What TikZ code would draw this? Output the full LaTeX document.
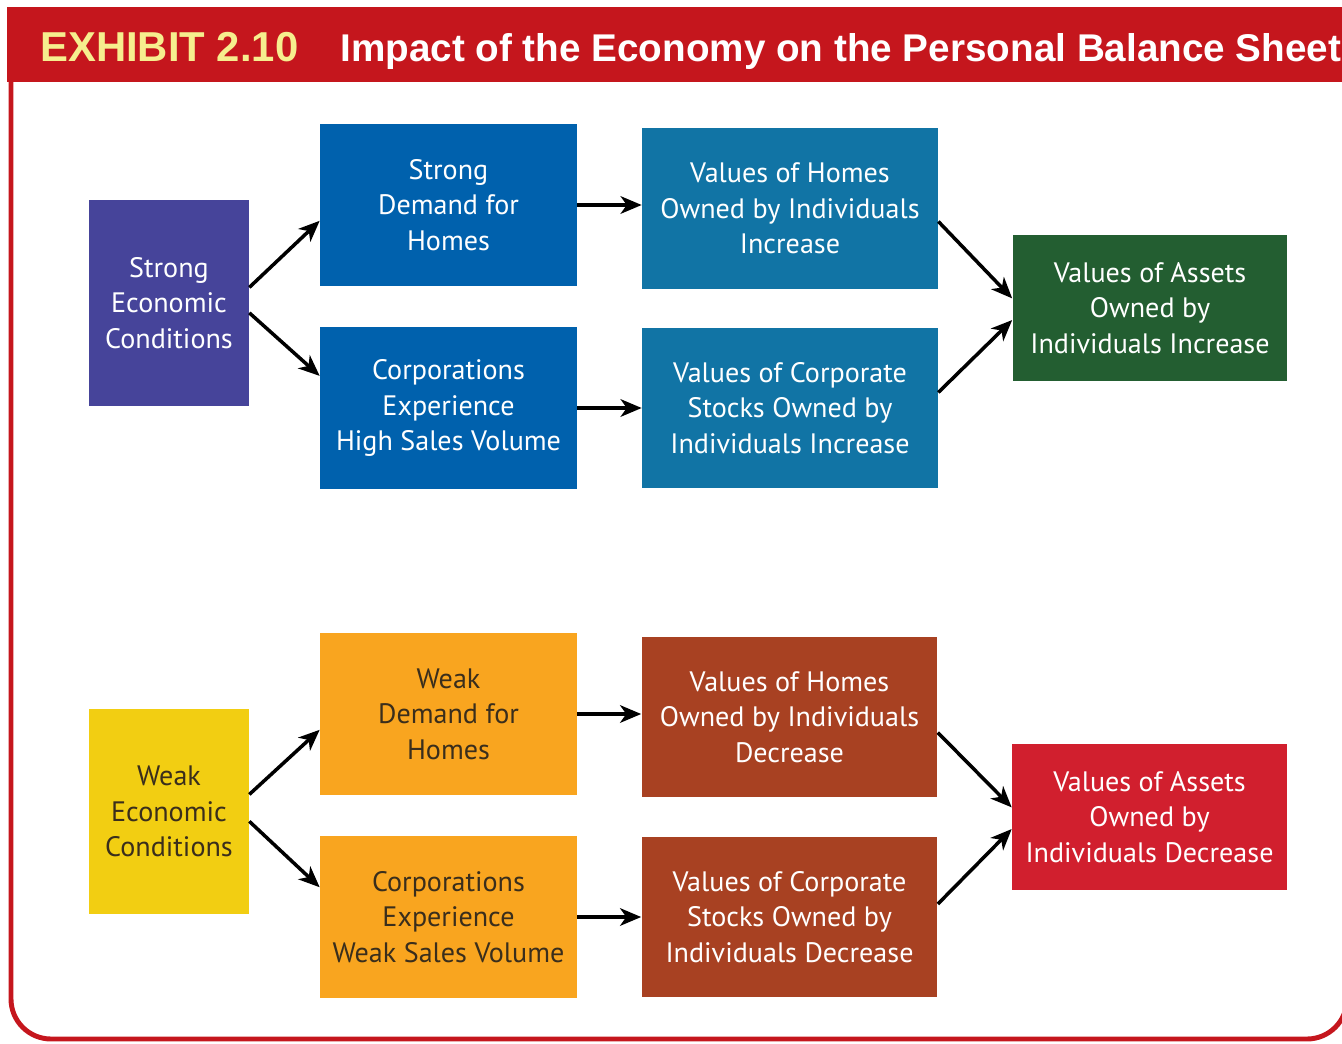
\documentclass[tikz,border=0pt]{standalone}
\usepackage{fontspec}
\setmainfont{PT Sans}
\newfontfamily\headfont{Liberation Sans}
\usetikzlibrary{arrows.meta}
\definecolor{headred}{HTML}{C5161D}
\definecolor{headyellow}{HTML}{F6EE8E}
\definecolor{strongpurple}{HTML}{46449A}
\definecolor{strongblue}{HTML}{0061AD}
\definecolor{strongteal}{HTML}{1174A5}
\definecolor{stronggreen}{HTML}{235E31}
\definecolor{weakyellow}{HTML}{F2CE12}
\definecolor{weakorange}{HTML}{F9A51F}
\definecolor{weakbrown}{HTML}{A84122}
\definecolor{weakred}{HTML}{D11F2E}
\definecolor{darktext}{HTML}{3A2E1C}
\begin{document}
\begin{tikzpicture}
        [   x = 0.02cm
        ,   y = -0.02cm
        ,   box/.style =
            {   inner sep = 0pt
            ,   align = center
            ,   font = \fontsize{16}{20.3}\selectfont
            }
        ,   condbox/.style =
            {   box
            ,   minimum width = 3.2cm
            ,   minimum height = 4.12cm
            }
        ,   causebox/.style =
            {   box
            ,   minimum width = 5.14cm
            ,   minimum height = 3.24cm
            }
        ,   valuebox/.style =
            {   box
            ,   minimum width = 5.92cm
            ,   minimum height = 3.22cm
            }
        ,   assetbox/.style =
            {   box
            ,   minimum width = 5.5cm
            ,   minimum height = 2.92cm
            }
        ,   flow/.style =
            {   line width = 2pt
            ,   -{Stealth[length = 12pt, width = 10pt, inset = 3.5pt]}
            }
        ,   headtext/.style =
            {   anchor = base west
            ,   inner sep = 0pt
            ,   font = \headfont\bfseries\fontsize{22}{22}\selectfont
            }
        ]
        \useasboundingbox (0,0) rectangle (1342,1044);
        % header band and frame
        \fill[headred] (7,7) rectangle (1350,82);
        \draw[headred, line width = 2.8pt, rounded corners = 0.8cm]
            (11,82) -- (11,1039) -- (1347,1039) -- (1347,82);
        \node[headtext, text = headyellow, font = \headfont\bfseries\fontsize{23.8}{24}\selectfont]
            (exhibit) at (40,62) {EXHIBIT 2.10};
        \node[headtext, text = white] (title) at (340,62)
            {Impact of the Economy on the Personal Balance Sheet};
        % strong economy
        \node[condbox, fill = strongpurple, text = white] (SEC) at (169,303)
            {Strong\\Economic\\Conditions};
        \node[causebox, fill = strongblue, text = white] (SDH) at (448.5,205)
            {Strong\\Demand for\\Homes};
        \node[causebox, fill = strongblue, text = white] (CHS) at (448.5,408)
            {Corporations\\Experience\\High Sales Volume};
        \node[valuebox, fill = strongteal, text = white] (VHI) at (790,208.5)
            {Values of Homes\\Owned by Individuals\\Increase};
        \node[valuebox, fill = strongteal, text = white] (VCI) at (790,408)
            {Values of Corporate\\Stocks Owned by\\Individuals Increase};
        \node[assetbox, fill = stronggreen, text = white] (VAI) at (1150,308)
            {Values of Assets\\Owned by\\Individuals Increase};
        % weak economy
        \node[condbox, fill = weakyellow, text = darktext] (WEC) at (169,811.5)
            {Weak\\Economic\\Conditions};
        \node[causebox, fill = weakorange, text = darktext] (WDH) at (448.5,714)
            {Weak\\Demand for\\Homes};
        \node[causebox, fill = weakorange, text = darktext] (CWS) at (448.5,917)
            {Corporations\\Experience\\Weak Sales Volume};
        \node[valuebox, fill = weakbrown, text = white] (VHD) at (789.5,717)
            {Values of Homes\\Owned by Individuals\\Decrease};
        \node[valuebox, fill = weakbrown, text = white] (VCD) at (789.5,917)
            {Values of Corporate\\Stocks Owned by\\Individuals Decrease};
        \node[assetbox, fill = weakred, text = white] (VAD) at (1149.5,817)
            {Values of Assets\\Owned by\\Individuals Decrease};
        % arrows
        \draw[flow] (SEC.11) -- (SDH.187);
        \draw[flow] (SEC.-7) -- (CHS.166);
        \draw[flow] (SDH.east) -- (SDH.east -| VHI.west);
        \draw[flow] (CHS.east) -- (CHS.east -| VCI.west);
        \draw[flow] (VHI.-5) -- (VAI.176);
        \draw[flow] (VCI.6) -- (VAI.185);
        \draw[flow] (WEC.12) -- (WDH.187);
        \draw[flow] (WEC.-7) -- (CWS.167);
        \draw[flow] (WDH.east) -- (WDH.east -| VHD.west);
        \draw[flow] (CWS.east) -- (CWS.east -| VCD.west);
        \draw[flow] (VHD.-6) -- (VAD.176);
        \draw[flow] (VCD.5) -- (VAD.185);
\end{tikzpicture}
\end{document}
